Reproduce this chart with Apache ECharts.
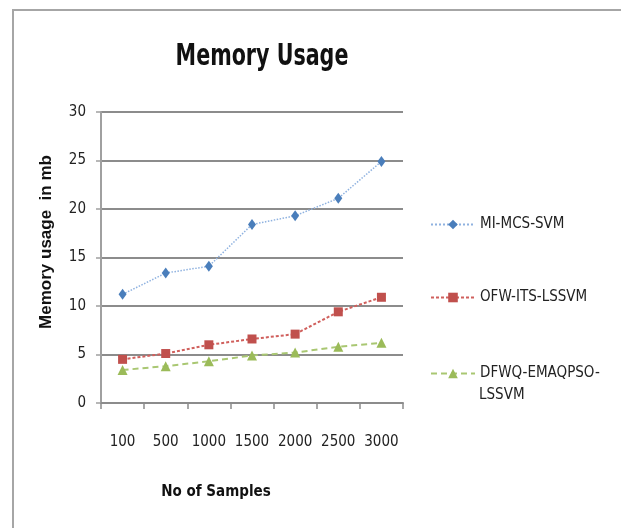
<!DOCTYPE html>
<html>
<head>
<meta charset="utf-8">
<script src="https://cdn.jsdelivr.net/npm/echarts@6/dist/echarts.min.js"></script>
<style>
  html, body { margin: 0; padding: 0; background: #fff; }
  #main { width: 621px; height: 528px; }
</style>
</head>
<body>
<div id="main"></div>
<script>
// samples on the x axis
var sampleLabels = ['100', '500', '1000', '1500', '2000', '2500', '3000'];

// memory usage (mb)
var miMcsSvm = [11.2, 13.4, 14.1, 18.4, 19.3, 21.1, 24.9];
var ofwItsLssvm = [4.5, 5.1, 6.0, 6.6, 7.1, 9.4, 10.9];
var dfwqEmaqpsoLssvm = [3.4, 3.8, 4.3, 4.9, 5.2, 5.8, 6.2];

var seriesNames = ['MI-MCS-SVM', 'OFW-ITS-LSSVM', 'DFWQ-EMAQPSO-LSSVM'];

var narrow = '"DejaVu Sans Condensed", "Liberation Sans Narrow", "Liberation Sans", sans-serif';

var chart = echarts.init(document.getElementById('main'));

function legendAt(name, top, fmt) {
  return {
    data: [name],
    left: 430,
    top: top,
    orient: 'vertical',
    padding: 0,
    itemWidth: 44,
    itemHeight: 12,
    formatter: fmt,
    textStyle: {
      fontFamily: narrow,
      fontSize: 15,
      color: '#222'
    }
  };
}

var option = {
  animation: false,
  backgroundColor: '#fff',
  title: {
    text: 'No of Samples',
    left: 211,
    top: 480,
    textAlign: 'center',
    textStyle: {
      fontFamily: narrow,
      fontWeight: 'bold',
      fontSize: 15,
      color: '#111'
    }
  },
  graphic: [
    {
      type: 'rect',
      shape: { x: 13, y: 10, width: 700, height: 600 },
      style: { fill: null, stroke: '#a6a6a6', lineWidth: 2 },
      silent: true
    },
    {
      // chart title, squeezed to the narrow look of the original
      type: 'text',
      x: 262,
      y: 57,
      scaleX: 0.74,
      style: {
        text: 'Memory Usage',
        fontFamily: narrow,
        fontWeight: 'bold',
        fontSize: 31,
        fill: '#111',
        align: 'center',
        verticalAlign: 'middle'
      }
    },
    {
      type: 'text',
      x: 46,
      y: 242,
      rotation: Math.PI / 2,
      style: {
        text: 'Memory usage  in mb',
        fontFamily: '"Liberation Sans", sans-serif',
        fontWeight: 'bold',
        fontSize: 17,
        fill: '#111',
        align: 'center',
        verticalAlign: 'middle'
      }
    },
    {
      // second line of the last legend entry
      type: 'text',
      left: 479,
      top: 388,
      style: {
        text: 'LSSVM',
        fontFamily: narrow,
        fontSize: 15,
        fill: '#222'
      }
    }
  ],
  legend: [
    legendAt(seriesNames[0], 217),
    legendAt(seriesNames[1], 290),
    legendAt(seriesNames[2], 366, function () { return 'DFWQ-EMAQPSO-'; })
  ],
  grid: {
    left: 101,
    top: 112,
    width: 302,
    height: 291,
    containLabel: false
  },
  xAxis: {
    type: 'category',
    data: sampleLabels,
    boundaryGap: true,
    axisLine: { lineStyle: { color: '#8c8c8c', width: 2 } },
    axisTick: { show: true, length: 6, lineStyle: { color: '#8c8c8c', width: 1.5 } },
    axisLabel: {
      interval: 0,
      margin: 32,
      fontFamily: narrow,
      fontSize: 15,
      color: '#222'
    }
  },
  yAxis: {
    type: 'value',
    min: 0,
    max: 30,
    interval: 5,
    axisLine: { show: true, lineStyle: { color: '#a0a0a0', width: 2 } },
    axisTick: { show: true, length: 5, lineStyle: { color: '#a0a0a0', width: 1.5 } },
    axisLabel: {
      margin: 15,
      fontFamily: narrow,
      fontSize: 15,
      color: '#222'
    },
    splitLine: { lineStyle: { color: '#8c8c8c', width: 2 } }
  },
  series: [
    {
      name: seriesNames[0],
      type: 'line',
      data: miMcsSvm,
      symbol: 'diamond',
      symbolSize: [8, 11],
      itemStyle: { color: '#4a7ebb' },
      lineStyle: { color: '#8fb2e0', width: 1.5, type: 'dotted' },
      z: 3
    },
    {
      name: seriesNames[1],
      type: 'line',
      data: ofwItsLssvm,
      symbol: 'rect',
      symbolSize: 9,
      itemStyle: { color: '#c0504d' },
      lineStyle: { color: '#d0605d', width: 2, type: [3, 2] },
      z: 4
    },
    {
      name: seriesNames[2],
      type: 'line',
      data: dfwqEmaqpsoLssvm,
      symbol: 'triangle',
      symbolSize: 10,
      itemStyle: { color: '#9bbb59' },
      lineStyle: { color: '#a9c772', width: 2, type: [6, 4] },
      z: 2
    }
  ]
};

chart.setOption(option);
</script>
</body>
</html>
